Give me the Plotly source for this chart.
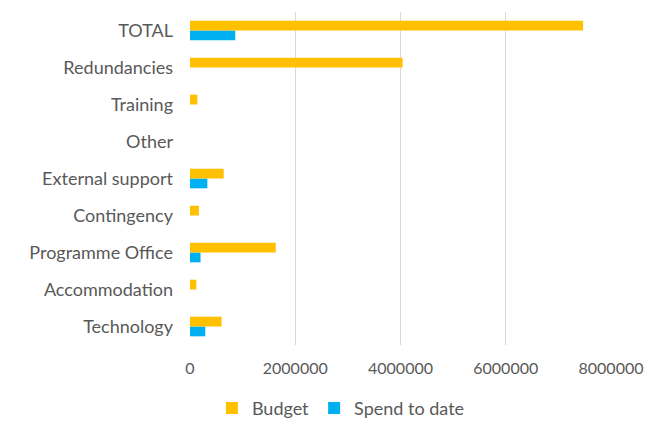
import plotly.graph_objects as go

# Programme cost lines, listed bottom to top as they appear on the axis
categories = [
    "Technology",
    "Accommodation",
    "Programme Office",
    "Contingency",
    "External support",
    "Other",
    "Training",
    "Redundancies",
    "TOTAL",
]
budget = [600000, 120000, 1630000, 170000, 640000, 0, 140000, 4040000, 7470000]
spend_to_date = [290000, 0, 200000, 0, 330000, 0, 0, 0, 860000]
x_ticks = [0, 2000000, 4000000, 6000000, 8000000]

YELLOW = "#FFC000"
BLUE = "#00B0F0"
TEXT = "#595959"
GRID = "#D9D9D9"
FONT = "Lato, 'Open Sans', sans-serif"

fig = go.Figure()
# Spend is added first so Budget sits on top within each group
fig.add_trace(go.Bar(
    y=categories, x=spend_to_date, orientation="h",
    name="Spend to date", marker=dict(color=BLUE, line=dict(width=0)),
    legendrank=2,
))
fig.add_trace(go.Bar(
    y=categories, x=budget, orientation="h",
    name="Budget", marker=dict(color=YELLOW, line=dict(width=0)),
    legendrank=1,
))

fig.update_layout(
    width=663, height=422,
    margin=dict(l=190, r=52, t=12, b=77, autoexpand=False),
    paper_bgcolor="white", plot_bgcolor="white",
    barmode="group", bargap=0.47, bargroupgap=0,
    font=dict(family=FONT, size=18, color=TEXT),
    showlegend=True,
    legend=dict(
        orientation="h", x=0.052, xanchor="left", y=-0.19, yanchor="middle",
        font=dict(family=FONT, size=18, color=TEXT),
        itemwidth=30, traceorder="normal", tracegroupgap=0,
    ),
    xaxis=dict(
        range=[0, 8000000], tickvals=x_ticks, tickformat="d",
        showgrid=True, gridcolor=GRID, gridwidth=1,
        zeroline=False, showline=False, ticks="",
        ticklabelstandoff=12,
        tickfont=dict(family=FONT, size=16, color=TEXT),
    ),
    yaxis=dict(
        categoryorder="array", categoryarray=categories,
        showgrid=False, zeroline=False, showline=False, ticks="",
        ticklabelstandoff=16,
        tickfont=dict(family=FONT, size=18, color=TEXT),
    ),
)

fig.write_html("out.html")
